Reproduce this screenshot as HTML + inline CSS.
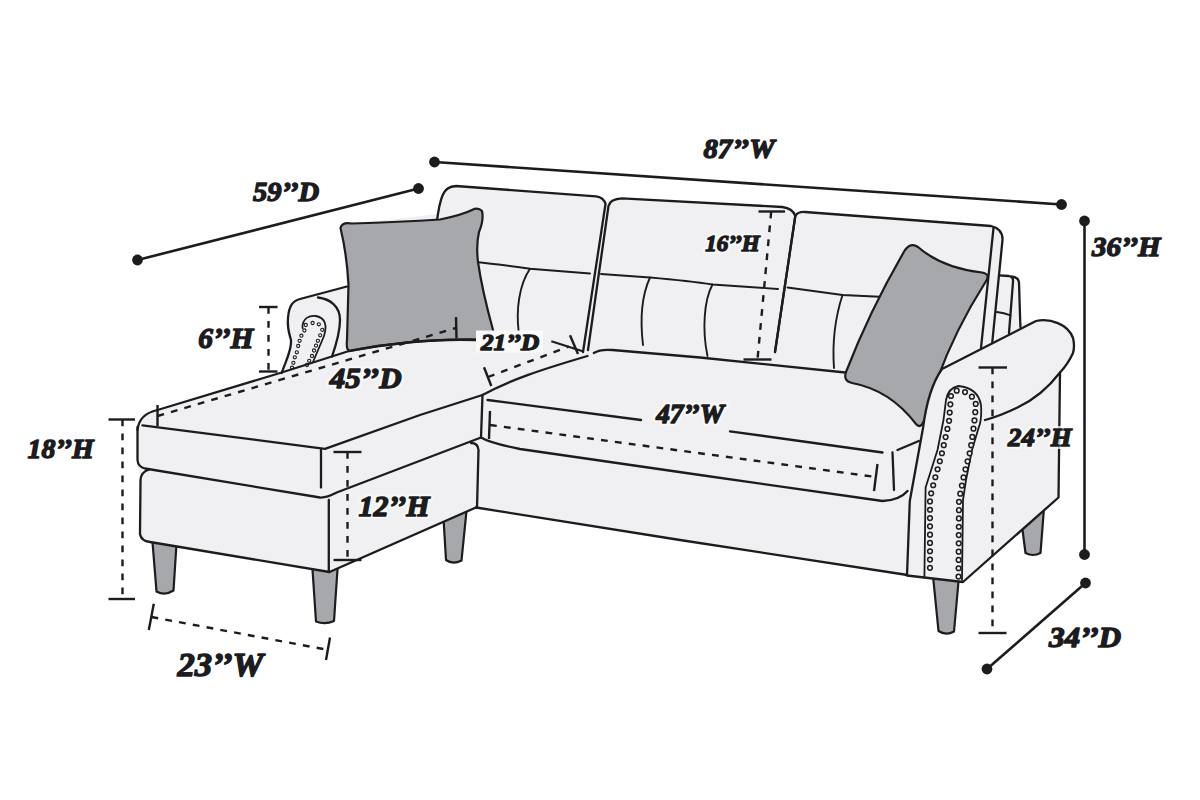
<!DOCTYPE html><html><head><meta charset="utf-8"><style>html,body{margin:0;padding:0;background:#fff;overflow:hidden}svg{display:block}</style></head><body><svg width="1200" height="800" viewBox="0 0 1200 800"><rect width="1200" height="800" fill="#fff"/>
<path d="M152,536 L177,536 L173.5,590.5 Q165,596 156.5,591.5 Z" fill="#a7a8ac" stroke="#1c1c1f" stroke-width="2.2" stroke-linejoin="round"/>
<path d="M312,562 L338,562 L334,621 Q325,625 316,621.5 Z" fill="#a7a8ac" stroke="#1c1c1f" stroke-width="2.2" stroke-linejoin="round"/>
<path d="M443,510 L467,506 L461.5,560.5 Q453,565 446,560 Z" fill="#a7a8ac" stroke="#1c1c1f" stroke-width="2.2" stroke-linejoin="round"/>
<path d="M933,576 L959,576 L954,631.5 Q946,636 938.5,631 Z" fill="#a7a8ac" stroke="#1c1c1f" stroke-width="2.2" stroke-linejoin="round"/>
<path d="M1022,526 L1044,508 L1040.5,553 Q1033,557 1025.5,553 Z" fill="#a7a8ac" stroke="#1c1c1f" stroke-width="2.2" stroke-linejoin="round"/>
<path d="M137.5,430 Q139,414 157.5,410 L281.7,372.5 C286,360 292,350 291,340 C289,333 287,328 288,318 C289,305 293,301 300,299 L347,286.5 L341.5,225 L438,214 L440,199 Q442,186 456,186 L597,197.5 Q604,199 605,203 Q607,199 612,199 L785,208 Q792,209 795,213 Q798,211 805,212 L991,226 Q1003,229 1002.5,240 L999,276 L1016,277.5 Q1020.5,279 1020.5,284 L1020,323 L1036,321 C1050,318 1068,324 1073,338 Q1075,346 1073,353 Q1068,364 1060,372.5 L1058.5,497.5 L963,582 L905,575 L476,507.5 L329.5,572 L150,542 Q140,540 140,532 L140,478 Q138,470 137.5,462 Z" fill="#f0f0f2"/>
<path d="M436.5,225 Q439,203 442.75,195 Q446,186.5 456,186 L596,196.3 Q604,197.5 605.5,204 L583,352" fill="none" stroke="#1c1c1f" stroke-width="2.3" stroke-linecap="round" stroke-linejoin="round" />
<path d="M588,350 L608.5,206 Q610,199 622,198.4 L782.3,207 Q793,208.5 795.3,216 L775,352" fill="none" stroke="#1c1c1f" stroke-width="2.3" stroke-linecap="round" stroke-linejoin="round" />
<path d="M775,352 L795.3,216 Q798,211.5 805,212 L991,226 Q1003,229 1002.5,240 L992,345" fill="none" stroke="#1c1c1f" stroke-width="2.3" stroke-linecap="round" stroke-linejoin="round" />
<path d="M993.5,228 L981,348" fill="none" stroke="#1c1c1f" stroke-width="2.3" stroke-linecap="round" stroke-linejoin="round" />
<path d="M999,275.4 L1009,276 Q1013.5,277 1013,282 L1009,333 M1011,276.5 Q1019,277 1019,283 L1020.4,327" fill="none" stroke="#1c1c1f" stroke-width="2.3" stroke-linecap="round" stroke-linejoin="round" />
<path d="M996.8,312 Q1004,313 1010.6,315.3" fill="none" stroke="#1c1c1f" stroke-width="1.8" stroke-linecap="round" stroke-linejoin="round" />
<path d="M470,261.5 Q505,265 530,268.8 L590,273.5" fill="none" stroke="#1c1c1f" stroke-width="1.9" stroke-linecap="round" stroke-linejoin="round" />
<path d="M530,268.8 C519,285 516,310 518.7,332" fill="none" stroke="#1c1c1f" stroke-width="1.9" stroke-linecap="round" stroke-linejoin="round" />
<path d="M601,274 L650,277.5 Q690,281 712.5,284.5 L778,289" fill="none" stroke="#1c1c1f" stroke-width="1.9" stroke-linecap="round" stroke-linejoin="round" />
<path d="M650,277.5 C642,295 640,320 643,345" fill="none" stroke="#1c1c1f" stroke-width="1.9" stroke-linecap="round" stroke-linejoin="round" />
<path d="M712.5,284.5 C704,300 702,330 707.5,356" fill="none" stroke="#1c1c1f" stroke-width="1.9" stroke-linecap="round" stroke-linejoin="round" />
<path d="M787.5,287.5 L842.5,295 L885,297" fill="none" stroke="#1c1c1f" stroke-width="1.9" stroke-linecap="round" stroke-linejoin="round" />
<path d="M842.5,295 C836,315 832,340 834,368" fill="none" stroke="#1c1c1f" stroke-width="1.9" stroke-linecap="round" stroke-linejoin="round" />
<path d="M281.7,373 C286,360 292,350 291,340 C289,333 287,328 288,318 C289,305 293,301 300,299 L347,286.5" fill="none" stroke="#1c1c1f" stroke-width="2.3" stroke-linecap="round" stroke-linejoin="round" />
<path d="M318,297.5 C330,299 340,306 340,320 C340,332 336,345 332,356.6" fill="none" stroke="#1c1c1f" stroke-width="2.3" stroke-linecap="round" stroke-linejoin="round" />
<path d="M302.5,328 C302,318 310,315 316,316 C326,318 327,326 324,336 L313,362" fill="none" stroke="#1c1c1f" stroke-width="1.8" stroke-linecap="round" stroke-linejoin="round" />
<circle cx="305.8" cy="325" r="1.6" fill="none" stroke="#1c1c1f" stroke-width="1.1"/>
<circle cx="312.6" cy="323" r="1.6" fill="none" stroke="#1c1c1f" stroke-width="1.1"/>
<circle cx="318.8" cy="324.3" r="1.6" fill="none" stroke="#1c1c1f" stroke-width="1.1"/>
<circle cx="322.3" cy="329.8" r="1.6" fill="none" stroke="#1c1c1f" stroke-width="1.1"/>
<circle cx="320.2" cy="335.3" r="1.6" fill="none" stroke="#1c1c1f" stroke-width="1.1"/>
<circle cx="317.9" cy="340.8" r="1.6" fill="none" stroke="#1c1c1f" stroke-width="1.1"/>
<circle cx="316" cy="345.6" r="1.6" fill="none" stroke="#1c1c1f" stroke-width="1.1"/>
<circle cx="314" cy="350.5" r="1.6" fill="none" stroke="#1c1c1f" stroke-width="1.1"/>
<circle cx="312" cy="356" r="1.6" fill="none" stroke="#1c1c1f" stroke-width="1.1"/>
<circle cx="309.2" cy="360.8" r="1.6" fill="none" stroke="#1c1c1f" stroke-width="1.1"/>
<circle cx="307" cy="365" r="1.6" fill="none" stroke="#1c1c1f" stroke-width="1.1"/>
<circle cx="304.4" cy="330.5" r="1.6" fill="none" stroke="#1c1c1f" stroke-width="1.1"/>
<circle cx="301.4" cy="335.7" r="1.6" fill="none" stroke="#1c1c1f" stroke-width="1.1"/>
<circle cx="299.6" cy="340.8" r="1.6" fill="none" stroke="#1c1c1f" stroke-width="1.1"/>
<circle cx="298.2" cy="346" r="1.6" fill="none" stroke="#1c1c1f" stroke-width="1.1"/>
<circle cx="296.8" cy="352.3" r="1.6" fill="none" stroke="#1c1c1f" stroke-width="1.1"/>
<circle cx="294.8" cy="357.3" r="1.6" fill="none" stroke="#1c1c1f" stroke-width="1.1"/>
<circle cx="293.4" cy="362.8" r="1.6" fill="none" stroke="#1c1c1f" stroke-width="1.1"/>
<circle cx="292" cy="367.7" r="1.6" fill="none" stroke="#1c1c1f" stroke-width="1.1"/>
<path d="M340.5,228 Q342,221.5 352,223.5 Q400,222 440,219.5 Q462,215 472,210 Q478,207 482,211 Q484,220 479,232 Q476,245 478,262 Q482,290 493,330 L494,340 Q420,337 349,351 Q346,349 347,340 L348.5,285 Q347,255 340.5,228 Z" fill="#a7a8ac" stroke="#1c1c1f" stroke-width="2.2" stroke-linejoin="round"/>
<path d="M137.5,430 Q139,414 157.5,410 L281.7,372.5 L349,351" fill="none" stroke="#1c1c1f" stroke-width="2.3" stroke-linecap="round" stroke-linejoin="round" />
<path d="M349,351 Q420,338 476,340" fill="none" stroke="#1c1c1f" stroke-width="2.3" stroke-linecap="round" stroke-linejoin="round" />
<path d="M142.5,425.3 L325,448.8 L420,415 L482.5,395 C510,380 540,370 587.5,356" fill="none" stroke="#1c1c1f" stroke-width="2.3" stroke-linecap="round" stroke-linejoin="round" />
<path d="M321,450 L321,487.5" fill="none" stroke="#1c1c1f" stroke-width="2.3" stroke-linecap="round" stroke-linejoin="round" />
<path d="M137.5,427 L137.5,460 Q138,467 145,468.5 L320,497.5 Q326,498 336.7,492.5 L481,437.5" fill="none" stroke="#1c1c1f" stroke-width="2.3" stroke-linecap="round" stroke-linejoin="round" />
<path d="M471,443 Q478,443 478.5,450 L477,508" fill="none" stroke="#1c1c1f" stroke-width="2.3" stroke-linecap="round" stroke-linejoin="round" />
<path d="M149,469.5 Q141,472 140.5,480 L140,534 Q141,541 150,542 L329.5,572 L476,507.5" fill="none" stroke="#1c1c1f" stroke-width="2.3" stroke-linecap="round" stroke-linejoin="round" />
<path d="M328.8,500 L328.8,572" fill="none" stroke="#1c1c1f" stroke-width="2.3" stroke-linecap="round" stroke-linejoin="round" />
<path d="M593.8,353 Q600,349 612.5,350 L700,357.5 L850,373" fill="none" stroke="#1c1c1f" stroke-width="2.3" stroke-linecap="round" stroke-linejoin="round" />
<path d="M482.5,395 L481,437.5 Q490,443 520,449 L700,475 L882.5,501 Q900,500 907.5,491" fill="none" stroke="#1c1c1f" stroke-width="2.3" stroke-linecap="round" stroke-linejoin="round" />
<path d="M487.5,400 L641,420 M730,431.3 L882.5,452.5 M892.5,452.5 L894,490 M897.5,450 L918.8,441" fill="none" stroke="#1c1c1f" stroke-width="2.3" stroke-linecap="round" stroke-linejoin="round" />
<path d="M476,507.5 L680,540 L907.5,575" fill="none" stroke="#1c1c1f" stroke-width="2.3" stroke-linecap="round" stroke-linejoin="round" />
<path d="M905,250 Q911,242 918,247 Q942,268 982,272.5 Q991,274 985.5,282 Q955,330 937,380 L925,418 Q921,430 916,424 Q890,390 852,383 Q843,381 846,372 Q870,310 905,250 Z" fill="#a7a8ac" stroke="#1c1c1f" stroke-width="2.2" stroke-linejoin="round"/>
<path d="M942,369 L1036,321 C1050,318 1068,324 1073,338 Q1075,346 1073,353 Q1068,364 1060,372.5 L1058.5,497.5 L963,582 L907,575.5 L909.8,501 L923,428 C926,405 932,383 942,369 Z" fill="#f0f0f2" stroke="#1c1c1f" stroke-width="2.3" stroke-linejoin="round"/>
<path d="M1060,372.5 Q1042,396 1017.5,407.5 Q1000,416 985,420" fill="none" stroke="#1c1c1f" stroke-width="2.3" stroke-linecap="round" stroke-linejoin="round" />
<path d="M924.4,577.6 L925.6,487.5 L937.5,450 L943.5,420 L946,400 Q948,388 958.5,386 Q978,388 981,405 Q982,420 978.7,427.5 L972,450 L966,480 L963,500 L962,580" fill="none" stroke="#1c1c1f" stroke-width="1.8" stroke-linecap="round" stroke-linejoin="round" />
<path d="M951,396 Q953,390 958.5,390.7 Q973,392 976,405 L974,425 L970.5,450 L964,475 L959,500 L958.5,578 M951,396 L949,422 L941.3,456 L934,482 L930,498 L930,574" fill="none" stroke="#1c1c1f" stroke-width="6.2" stroke-linecap="round" stroke-dasharray="0 8.3"/>
<path d="M951,396 Q953,390 958.5,390.7 Q973,392 976,405 L974,425 L970.5,450 L964,475 L959,500 L958.5,578 M951,396 L949,422 L941.3,456 L934,482 L930,498 L930,574" fill="none" stroke="#f0f0f2" stroke-width="3.2" stroke-linecap="round" stroke-dasharray="0 8.3"/>
<line x1="137.5" y1="260" x2="418.5" y2="188.5" stroke="#1c1c1f" stroke-width="2.6"/>
<circle cx="137.5" cy="260" r="5.4" fill="#1c1c1f"/><circle cx="418.5" cy="188.5" r="5.4" fill="#1c1c1f"/>
<line x1="434.5" y1="162" x2="1061.5" y2="204.5" stroke="#1c1c1f" stroke-width="2.6"/>
<circle cx="434.5" cy="162" r="5.4" fill="#1c1c1f"/><circle cx="1061.5" cy="204.5" r="5.4" fill="#1c1c1f"/>
<line x1="1084.5" y1="221" x2="1084.5" y2="554.5" stroke="#1c1c1f" stroke-width="2.6"/>
<circle cx="1084.5" cy="221" r="5.4" fill="#1c1c1f"/><circle cx="1084.5" cy="554.5" r="5.4" fill="#1c1c1f"/>
<line x1="1085.5" y1="583" x2="987" y2="669" stroke="#1c1c1f" stroke-width="2.6"/>
<circle cx="1085.5" cy="583" r="5.4" fill="#1c1c1f"/><circle cx="987" cy="669" r="5.4" fill="#1c1c1f"/>
<line x1="259" y1="307" x2="277.5" y2="307" stroke="#1c1c1f" stroke-width="2.4"/>
<line x1="259" y1="371.5" x2="277.5" y2="371.5" stroke="#1c1c1f" stroke-width="2.4"/>
<line x1="268.5" y1="307" x2="268.5" y2="371.5" stroke="#1c1c1f" stroke-width="2.4" stroke-dasharray="6.8 7.2"/>
<line x1="108.5" y1="419.5" x2="135" y2="419.5" stroke="#1c1c1f" stroke-width="2.4"/>
<line x1="108.5" y1="599" x2="135" y2="599" stroke="#1c1c1f" stroke-width="2.4"/>
<line x1="122.5" y1="419.5" x2="122.5" y2="599" stroke="#1c1c1f" stroke-width="2.4" stroke-dasharray="6.8 7.2"/>
<line x1="333.5" y1="452" x2="361.5" y2="452" stroke="#1c1c1f" stroke-width="2.4"/>
<line x1="333.5" y1="560" x2="361.5" y2="560" stroke="#1c1c1f" stroke-width="2.4"/>
<line x1="347.5" y1="452" x2="347.5" y2="560" stroke="#1c1c1f" stroke-width="2.4" stroke-dasharray="6.8 7.2"/>
<line x1="758.5" y1="211.5" x2="785" y2="211.5" stroke="#1c1c1f" stroke-width="2.4"/>
<line x1="743.5" y1="359.5" x2="771.5" y2="359.5" stroke="#1c1c1f" stroke-width="2.4"/>
<line x1="771.2" y1="211.5" x2="757.5" y2="359.5" stroke="#1c1c1f" stroke-width="2.4" stroke-dasharray="6.8 7.2"/>
<line x1="978.5" y1="367.5" x2="1007" y2="367.5" stroke="#1c1c1f" stroke-width="2.4"/>
<line x1="978.5" y1="633" x2="1006.5" y2="633" stroke="#1c1c1f" stroke-width="2.4"/>
<line x1="992.5" y1="367.5" x2="992.5" y2="633" stroke="#1c1c1f" stroke-width="2.4" stroke-dasharray="6.8 7.2"/>
<line x1="157.5" y1="405" x2="157.5" y2="426" stroke="#1c1c1f" stroke-width="2.4"/>
<line x1="157.5" y1="416" x2="456" y2="328" stroke="#1c1c1f" stroke-width="2.4" stroke-dasharray="6.8 7.2"/>
<line x1="456" y1="317" x2="456.5" y2="338.5" stroke="#1c1c1f" stroke-width="2.4"/>
<line x1="490" y1="411" x2="489" y2="439" stroke="#1c1c1f" stroke-width="2.4"/>
<line x1="490" y1="425" x2="876" y2="477" stroke="#1c1c1f" stroke-width="2.4" stroke-dasharray="6.8 7.2"/>
<line x1="877.5" y1="464" x2="874" y2="491" stroke="#1c1c1f" stroke-width="2.4"/>
<line x1="153.8" y1="603.8" x2="148.8" y2="630" stroke="#1c1c1f" stroke-width="2.4"/>
<line x1="151.5" y1="617" x2="328.5" y2="650" stroke="#1c1c1f" stroke-width="2.4" stroke-dasharray="6.8 7.2"/>
<line x1="330" y1="637.5" x2="326" y2="660" stroke="#1c1c1f" stroke-width="2.4"/>
<rect x="476" y="330.5" width="67" height="22" fill="#fafafa"/>
<line x1="484" y1="367.3" x2="491.3" y2="386" stroke="#1c1c1f" stroke-width="2.4"/>
<line x1="488" y1="377" x2="569" y2="346.5" stroke="#1c1c1f" stroke-width="2.4" stroke-dasharray="6.8 7.2"/>
<line x1="570" y1="335.3" x2="578" y2="354" stroke="#1c1c1f" stroke-width="2.4"/>
<line x1="551.3" y1="341.3" x2="582.7" y2="351.3" stroke="#1c1c1f" stroke-width="2"/>
<text transform="translate(252.94,201.19) scale(1.030,1)" font-size="27.76" font-family="Liberation Serif" font-weight="bold" font-style="italic" fill="#1c1c1f" stroke="#1c1c1f" stroke-width="1.4" stroke-linejoin="round">59’’D</text>
<text transform="translate(703.47,157.99) scale(1.057,1)" font-size="27.16" font-family="Liberation Serif" font-weight="bold" font-style="italic" fill="#1c1c1f" stroke="#1c1c1f" stroke-width="1.4" stroke-linejoin="round">87’’W</text>
<text transform="translate(1091.88,256.19) scale(1.046,1)" font-size="27.76" font-family="Liberation Serif" font-weight="bold" font-style="italic" fill="#1c1c1f" stroke="#1c1c1f" stroke-width="1.4" stroke-linejoin="round">36’’H</text>
<text transform="translate(705.15,251.41) scale(1.044,1)" font-size="22.09" font-family="Liberation Serif" font-weight="bold" font-style="italic" fill="#fafafa" stroke="#fafafa" stroke-width="6" stroke-linejoin="round" opacity="0.75">16’’H</text>
<text transform="translate(705.15,251.41) scale(1.044,1)" font-size="22.09" font-family="Liberation Serif" font-weight="bold" font-style="italic" fill="#1c1c1f" stroke="#1c1c1f" stroke-width="1.4" stroke-linejoin="round">16’’H</text>
<text transform="translate(198.36,348.48) scale(0.991,1)" font-size="29.70" font-family="Liberation Serif" font-weight="bold" font-style="italic" fill="#1c1c1f" stroke="#1c1c1f" stroke-width="1.4" stroke-linejoin="round">6’’H</text>
<text transform="translate(329.81,388.18) scale(1.060,1)" font-size="29.25" font-family="Liberation Serif" font-weight="bold" font-style="italic" fill="#fafafa" stroke="#fafafa" stroke-width="6" stroke-linejoin="round" opacity="0.75">45’’D</text>
<text transform="translate(329.81,388.18) scale(1.060,1)" font-size="29.25" font-family="Liberation Serif" font-weight="bold" font-style="italic" fill="#1c1c1f" stroke="#1c1c1f" stroke-width="1.4" stroke-linejoin="round">45’’D</text>
<text transform="translate(481.02,349.91) scale(1.102,1)" font-size="22.84" font-family="Liberation Serif" font-weight="bold" font-style="italic" fill="#1c1c1f" stroke="#1c1c1f" stroke-width="1.4" stroke-linejoin="round">21’’D</text>
<text transform="translate(656.13,422.99) scale(1.031,1)" font-size="26.57" font-family="Liberation Serif" font-weight="bold" font-style="italic" fill="#fafafa" stroke="#fafafa" stroke-width="6" stroke-linejoin="round" opacity="0.75">47’’W</text>
<text transform="translate(656.13,422.99) scale(1.031,1)" font-size="26.57" font-family="Liberation Serif" font-weight="bold" font-style="italic" fill="#1c1c1f" stroke="#1c1c1f" stroke-width="1.4" stroke-linejoin="round">47’’W</text>
<text transform="translate(27.51,458.19) scale(1.012,1)" font-size="27.61" font-family="Liberation Serif" font-weight="bold" font-style="italic" fill="#1c1c1f" stroke="#1c1c1f" stroke-width="1.4" stroke-linejoin="round">18’’H</text>
<text transform="translate(358.55,516.18) scale(1.001,1)" font-size="30.00" font-family="Liberation Serif" font-weight="bold" font-style="italic" fill="#fafafa" stroke="#fafafa" stroke-width="6" stroke-linejoin="round" opacity="0.75">12’’H</text>
<text transform="translate(358.55,516.18) scale(1.001,1)" font-size="30.00" font-family="Liberation Serif" font-weight="bold" font-style="italic" fill="#1c1c1f" stroke="#1c1c1f" stroke-width="1.4" stroke-linejoin="round">12’’H</text>
<text transform="translate(1008.00,445.90) scale(1.041,1)" font-size="25.82" font-family="Liberation Serif" font-weight="bold" font-style="italic" fill="#fafafa" stroke="#fafafa" stroke-width="6" stroke-linejoin="round" opacity="0.75">24’’H</text>
<text transform="translate(1008.00,445.90) scale(1.041,1)" font-size="25.82" font-family="Liberation Serif" font-weight="bold" font-style="italic" fill="#1c1c1f" stroke="#1c1c1f" stroke-width="1.4" stroke-linejoin="round">24’’H</text>
<text transform="translate(177.38,675.97) scale(1.053,1)" font-size="32.84" font-family="Liberation Serif" font-weight="bold" font-style="italic" fill="#1c1c1f" stroke="#1c1c1f" stroke-width="1.4" stroke-linejoin="round">23’’W</text>
<text transform="translate(1048.90,646.58) scale(1.067,1)" font-size="29.25" font-family="Liberation Serif" font-weight="bold" font-style="italic" fill="#1c1c1f" stroke="#1c1c1f" stroke-width="1.4" stroke-linejoin="round">34’’D</text></svg></body></html>
